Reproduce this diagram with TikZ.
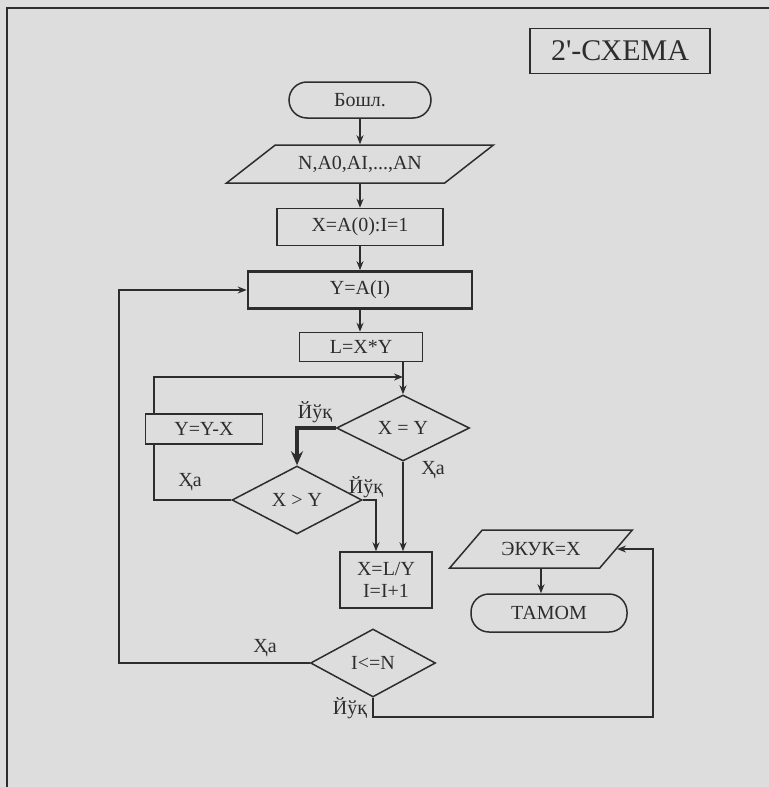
\documentclass[tikz,border=0pt]{standalone}
\usepackage{fontspec}
\setmainfont{Liberation Serif}
\usetikzlibrary{shapes.geometric,arrows.meta}
\definecolor{paper}{RGB}{221,221,221}
\definecolor{ink}{RGB}{45,45,45}
\begin{document}
\begin{tikzpicture}[x=0.5pt, y=-0.5pt, >={Stealth[length=4.5pt,width=3.5pt]}, line width=0.75pt, color=ink,
		font=\fontsize{10}{11}\selectfont,
		box/.style={draw, rectangle, inner sep=1pt},
		term/.style={draw, rectangle, rounded corners=9pt, inner sep=1pt},
		io/.style={draw, trapezium, trapezium stretches=true, inner sep=1pt},
		cond/.style={draw, diamond, aspect=2, inner sep=0pt},
		lab/.style={inner sep=0pt}]
		\useasboundingbox (0,0) rectangle (769,787);
		\fill[paper] (0,0) rectangle (769,787);
		\draw (7,787) -- (7,8) -- (769,8);
		\node[box, minimum width=90pt, minimum height=22.5pt, font=\fontsize{15}{17}\selectfont] (title) at (620,51) {2\textquotesingle-СХЕМА};
		\node[term, minimum width=71pt, minimum height=18pt] (start) at (360,100) {Бошл.};
		\node[io, trapezium left angle=29, trapezium right angle=151, minimum width=134pt, minimum height=19pt] (inp) at (360,164) {N,A0,AI,...,AN};
		\node[box, minimum width=83pt, minimum height=18.5pt] (init) at (360,227) {X=A(0):I=1};
		\node[box, line width=1.3pt, minimum width=112pt, minimum height=18.5pt] (yai) at (360,290) {Y=A(I)};
		\node[box, minimum width=61.5pt, minimum height=14.5pt] (mul) at (361,347) {L=X*Y};
		\node[cond, minimum width=66.5pt, minimum height=33pt] (eq) at (403,428) {X = Y};
		\node[box, minimum width=58.5pt, minimum height=15pt] (sub) at (204,429) {Y=Y-X};
		\node[cond, minimum width=65pt, minimum height=34pt] (gt) at (297,500) {X > Y};
		\node[box, minimum width=46pt, minimum height=28pt, align=center] (res) at (386,580) {X=L/Y\\I=I+1};
		\node[io, trapezium left angle=37, trapezium right angle=143, minimum width=91.5pt, minimum height=19pt] (out) at (541,549) {ЭКУК=X};
		\node[term, minimum width=78pt, minimum height=19pt] (stop) at (549,613) {ТАМОМ};
		\node[cond, minimum width=62.5pt, minimum height=34pt] (le) at (373,663) {I<=N};
		\node[lab] (no1) at (315,412) {Йўқ};
		\node[lab] (yes1) at (433,470) {Ҳа};
		\node[lab] (yes2) at (190,482) {Ҳа};
		\node[lab] (no2) at (366,487) {Йўқ};
		\node[lab] (yes3) at (265,648) {Ҳа};
		\node[lab] (no3) at (350,708) {Йўқ};
		\draw[->] (start.south) -- (start.south |- inp.north);
		\draw[->] (inp.south) -- (inp.south |- init.north);
		\draw[->] (init.south) -- (init.south |- yai.north);
		\draw[->] (yai.south) -- (yai.south |- mul.north);
		\coordinate (jn) at (eq.north |- 0,377);
		\draw (mul.south -| eq.north) -- (jn);
		\draw[->] (jn) -- (eq.north);
		\draw[->] ([xshift=4.5pt]sub.north west) |- (jn);
		\draw[line width=2pt, -{Stealth[length=7pt,width=6pt]}] (eq.west) -| (gt.north);
		\draw (gt.west) -| ([xshift=4.5pt]sub.south west);
		\draw[->] (gt.east) -| ([xshift=-5pt]res.north);
		\draw[->] (eq.south) -- (eq.south |- res.north);
		\draw[->] (le.west) -- ++(-191,0) |- (yai.west);
		\draw[->] (le.south) -- ++(0,19) -- ++(280,0) |- (out.east);
		\draw[->] (out.south) -- (out.south |- stop.north);
	\end{tikzpicture}
\end{document}
